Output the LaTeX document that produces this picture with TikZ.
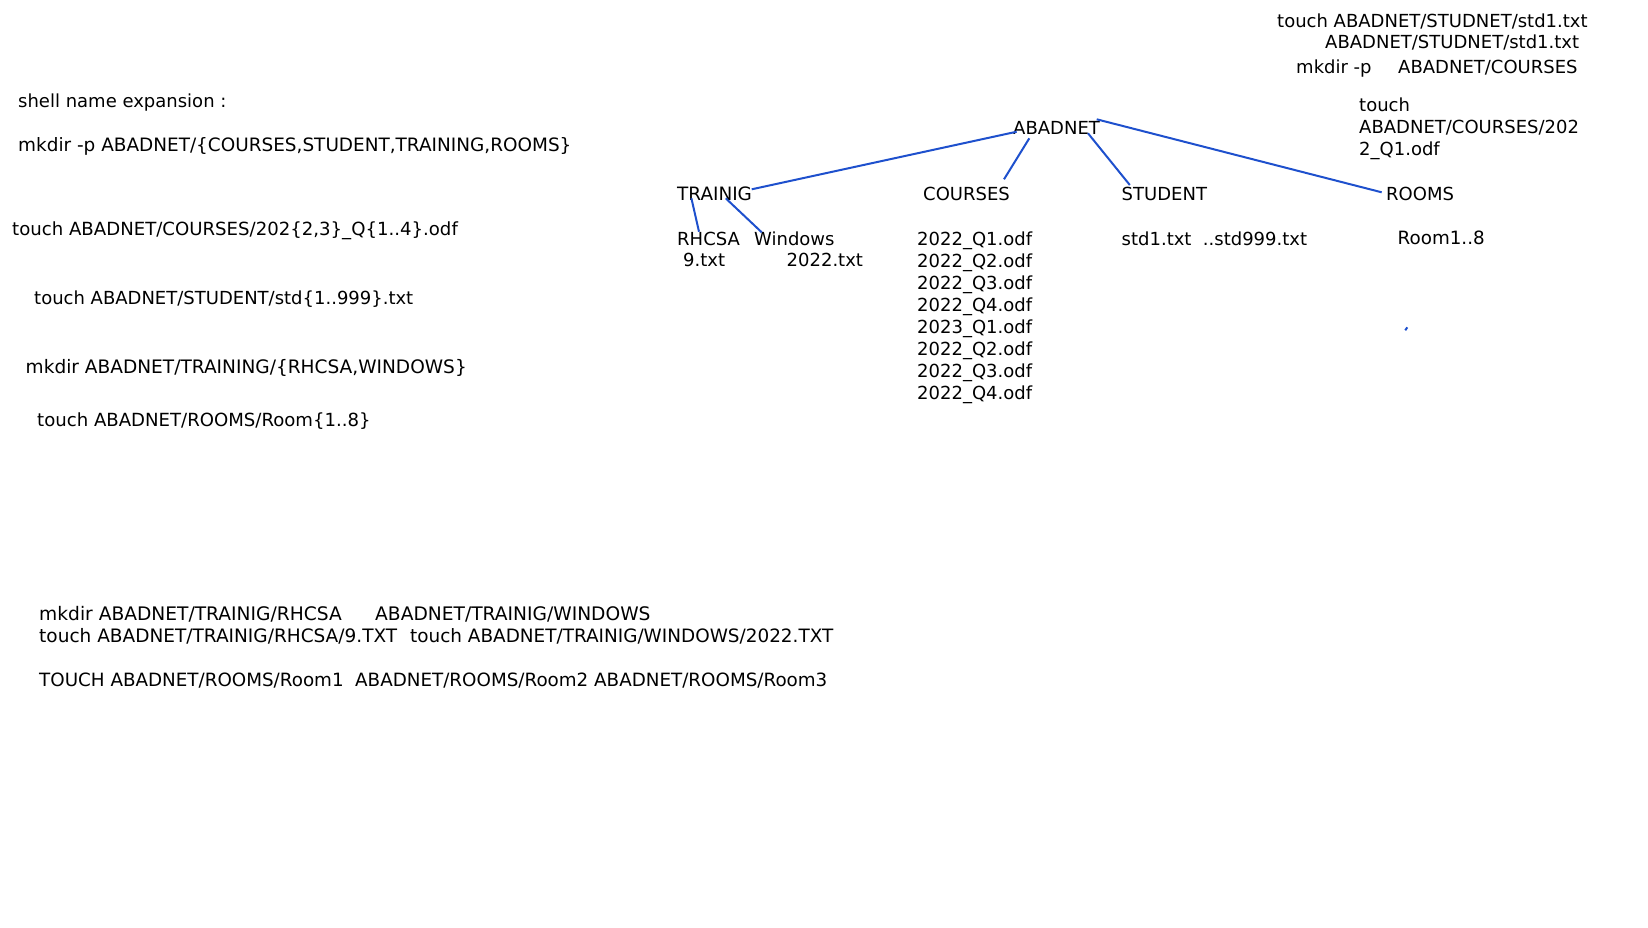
\documentclass[tikz,border=0pt]{standalone}
\usepackage{fontspec}
\setmainfont{DejaVu Sans}
\usetikzlibrary{calc}
\definecolor{linkblue}{RGB}{30,80,205}
\begin{document}
\begin{tikzpicture}[x=1pt,y=-1pt,
  txt/.style={anchor=base west,inner sep=0pt,font=\fontsize{18}{22}\selectfont},
  sized/.style={anchor=base west,inner sep=0pt,font=\fontsize{#1}{22}\selectfont},
  link/.style={draw=linkblue,line width=2pt}]
\useasboundingbox (0,0) rectangle (1648,927);

% shell commands on the left
\node[txt]          (shell)    at (18,107)   {shell name expansion :};
\node[sized=18.43]  (mkall)    at (18,151)   {mkdir -p ABADNET/\{COURSES,STUDENT,TRAINING,ROOMS\}};
\node[sized=18.12]  (tcourses) at (12,235)   {touch ABADNET/COURSES/202\{2,3\}\_Q\{1..4\}.odf};
\node[txt]          (tstudent) at (34,304)   {touch ABADNET/STUDENT/std\{1..999\}.txt};
\node[sized=18.55]  (mktrain)  at (25.5,373.5) {mkdir ABADNET/TRAINING/\{RHCSA,WINDOWS\}};
\node[sized=18.1]   (trooms)   at (37,426)   {touch ABADNET/ROOMS/Room\{1..8\}};

% long-hand commands at the bottom
\node[sized=18.65] (b1) at (39,620)  {mkdir ABADNET/TRAINIG/RHCSA};
\node[sized=18.65] (b2) at (375,620) {ABADNET/TRAINIG/WINDOWS};
\node[sized=18.5]  (b3) at (39,642)  {touch ABADNET/TRAINIG/RHCSA/9.TXT};
\node[sized=18.4]  (b4) at (410,642) {touch ABADNET/TRAINIG/WINDOWS/2022.TXT};
\node[sized=18.3]  (b5) at (39,686)  {TOUCH ABADNET/ROOMS/Room1};
\node[sized=18.3]  (b6) at (355,686) {ABADNET/ROOMS/Room2};
\node[sized=18.3]  (b7) at (594,686) {ABADNET/ROOMS/Room3};

% notes at the top right
\node[txt] (r1) at (1277,27)   {touch ABADNET/STUDNET/std1.txt};
\node[txt] (r2) at (1325,48.5) {ABADNET/STUDNET/std1.txt};
\node[txt] (r3) at (1296,73)   {mkdir -p};
\node[txt] (r4) at (1398,73)   {ABADNET/COURSES};
\node[txt] (r5) at (1359,111)  {\begin{tabular}[t]{@{}l@{}}touch\\ABADNET/COURSES/202\\2\_Q1.odf\end{tabular}};

% directory tree
\node[txt] (root)    at (1013,134)    {ABADNET};
\node[sized=18.4] (train) at (677,200.7) {TRAINIG};
\node[txt] (courses) at (923,200.7)   {COURSES};
\node[txt] (student) at (1121.5,200.7){STUDENT};
\node[txt] (rooms)   at (1386,200.7)  {ROOMS};
\node[txt] (rhcsa)   at (677,245)     {RHCSA};
\node[txt] (win)     at (754,245)     {Windows};
\node[txt] (f9)      at (683,266.5)   {9.txt};
\node[txt] (f2022)   at (786.5,266.5) {2022.txt};
\node[txt] (qlist)   at (917,245)     {\begin{tabular}[t]{@{}l@{}}2022\_Q1.odf\\2022\_Q2.odf\\2022\_Q3.odf\\2022\_Q4.odf\\2023\_Q1.odf\\2022\_Q2.odf\\2022\_Q3.odf\\2022\_Q4.odf\end{tabular}};
\node[txt] (stdfiles)  at (1121.5,245) {std1.txt\ \ ..std999.txt};
\node[sized=18.3] (roomfiles) at (1397.5,244.5){Room1..8};

% tree connectors
\draw[link] ($(root.base west)+(3.7,-2.3)$)   -- ($(train.base west)+(74.7,-11.4)$);
\draw[link] ($(root.base west)+(16.3,4.3)$)   -- ($(courses.base west)+(81,-21.4)$);
\draw[link] ($(root.base west)+(75,-0.7)$)    -- ($(student.base west)+(8.3,-15.7)$);
\draw[link] ($(root.base west)+(83.7,-14.7)$) -- ($(rooms.base west)+(-4.3,-8.4)$);
\draw[link] ($(train.base west)+(14.4,-2.4)$) -- ($(rhcsa.base west)+(22,-13.3)$);
\draw[link] ($(train.base west)+(48.7,-2.4)$) -- ($(win.base west)+(7.7,-12.7)$);

% stray pen stroke below the rooms
\coordinate (tick1) at (1405.3,330.3);
\coordinate (tick2) at (1407.3,327.3);
\draw[link] (tick1) -- (tick2);
\end{tikzpicture}
\end{document}
